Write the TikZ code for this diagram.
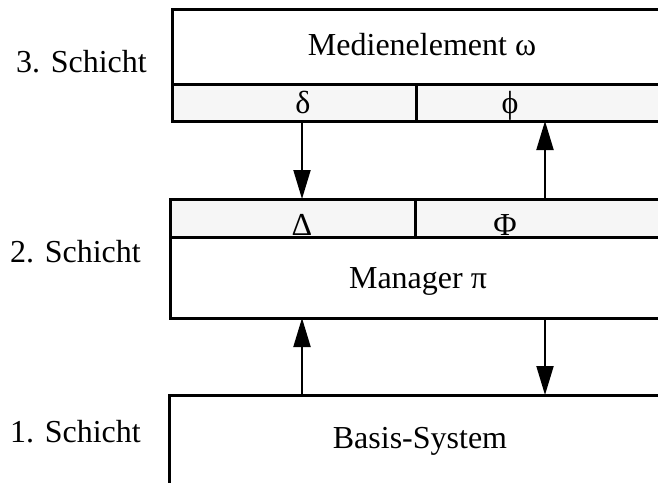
\documentclass[tikz,border=0pt]{standalone}
\usepackage{fontspec}
\setmainfont{Liberation Serif}
\usetikzlibrary{arrows.meta}
\definecolor{cellgray}{RGB}{246,246,246}
\begin{document}
\begin{tikzpicture}[x=1pt,y=-1pt,
  box/.style={draw, line width=3pt, anchor=north west, inner sep=0pt, outer sep=0pt},
  cell/.style={box, fill=cellgray},
  lbl/.style={font=\fontsize{32}{38}\selectfont, inner sep=0pt, anchor=base},
  arr/.style={line width=2pt, -{Triangle[length=29pt,width=17pt]}}]
\useasboundingbox (0,0) rectangle (658,482);
\clip (0,0) rectangle (658,482);

% layer 3: media element with its two interface cells
\node[box, minimum width=500pt, minimum height=75pt] (medien) at (172,9) {};
\node[cell, minimum width=244pt, minimum height=37pt] (dcell) at (172,84) {};
\node[cell, minimum width=256pt, minimum height=37pt] (pcell) at (416,84) {};

% layer 2: interface cells above the manager
\node[cell, minimum width=245pt, minimum height=38pt] (Dcell) at (170,199) {};
\node[cell, minimum width=257pt, minimum height=38pt] (Pcell) at (415,199) {};
\node[box, minimum width=502pt, minimum height=81pt] (manager) at (170,237) {};

% layer 1: base system
\node[box, minimum width=502pt, minimum height=130pt] (basis) at (169,395) {};

% texts
\node[lbl] (t3) at (81.5,72) {3. Schicht};
\node[lbl] (t2) at (75.5,262) {2. Schicht};
\node[lbl] (t1) at (75.5,442) {1. Schicht};
\node[lbl] (tm) at (422,55) {Medienelement ω};
\node[lbl] (td) at (303,113) {δ};
\node[lbl] (tp) at (510,113) {ϕ};
\node[lbl] (tD) at (302,235) {Δ};
\node[lbl] (tP) at (505,235) {Φ};
\node[lbl] (tmg) at (418,288) {Manager π};
\node[lbl] (tb) at (420,448) {Basis-System};

% columns of the connectors
\coordinate (cl) at (302,0);
\coordinate (cr) at (545,0);

% arrows between the layers
\draw[arr] (dcell.south -| cl) -- (Dcell.north -| cl);
\draw[arr] (Pcell.north -| cr) -- (pcell.south -| cr);
\draw[arr] (basis.north -| cl) -- (manager.south -| cl);
\draw[arr] (manager.south -| cr) -- (basis.north -| cr);
\end{tikzpicture}
\end{document}
